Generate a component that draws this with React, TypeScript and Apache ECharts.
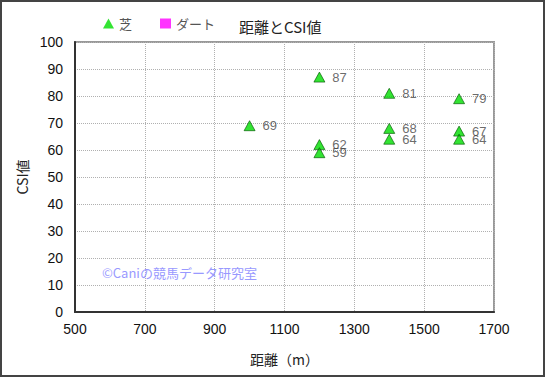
import React, { useEffect, useRef } from "react";
import * as echarts from "echarts";

const turfDistance = [1000, 1200, 1200, 1200, 1400, 1400, 1400, 1600, 1600, 1600];
const turfCSI = [69, 87, 62, 59, 81, 68, 64, 79, 67, 64];
const dirtDistance: number[] = [];
const dirtCSI: number[] = [];
const seriesNames = ["芝", "ダート"];
const chartTitle = "距離とCSI値";
const xName = "距離（m）";
const yName = "CSI値";
const watermark = "©Caniの競馬データ研究室";

export default function App() {
  const ref = useRef<HTMLDivElement>(null);
  useEffect(() => {
    if (!ref.current) return;
    const chart = echarts.init(ref.current, undefined, { renderer: "svg" });
    const font = "'Noto Sans CJK JP', 'Liberation Sans', sans-serif";
    const numFont = "'Liberation Sans', Arial, sans-serif";
    chart.setOption({
      animation: false,
      backgroundColor: "#ffffff",
      textStyle: { fontFamily: font },
      title: {
        text: chartTitle,
        left: 234,
        top: 14,
        textStyle: { fontSize: 15, fontWeight: "normal", color: "#222", fontFamily: font },
      },
      legend: {
        left: 98,
        top: 12,
        itemWidth: 11,
        itemHeight: 10,
        itemGap: 28,
        textStyle: { fontSize: 13, color: "#555", fontFamily: font },
        data: [
          { name: seriesNames[0], icon: "triangle", itemStyle: { color: "#00dd00", borderWidth: 0 } },
          { name: seriesNames[1], icon: "rect" },
        ],
      },
      grid: { left: 75, right: 51, top: 42, bottom: 65, show: true, borderColor: "#999", borderWidth: 2, backgroundColor: "#fff" },
      xAxis: {
        type: "value",
        min: 500,
        max: 1700,
        interval: 200,
        name: xName,
        nameLocation: "middle",
        nameGap: 40,
        nameTextStyle: { fontSize: 14, color: "#222", fontFamily: font },
        axisLine: { lineStyle: { color: "#333", width: 2 } },
        axisTick: { show: false },
        axisLabel: { fontSize: 14, color: "#111", margin: 10, fontFamily: numFont, formatter: (v: number) => String(v) },
        splitLine: { lineStyle: { type: "dotted", color: "#b0b0b0" } },
      },
      yAxis: {
        type: "value",
        min: 0,
        max: 100,
        interval: 10,
        name: yName,
        nameLocation: "middle",
        nameGap: 43,
        nameTextStyle: { fontSize: 14, color: "#222", fontFamily: font },
        axisLine: { show: true, lineStyle: { color: "#333", width: 2 } },
        axisTick: { show: false },
        axisLabel: { fontSize: 14, color: "#111", margin: 12, fontFamily: numFont },
        splitLine: { lineStyle: { type: "dotted", color: "#b0b0b0" } },
      },
      series: [
        {
          name: seriesNames[0],
          type: "scatter",
          symbol: "triangle",
          symbolSize: [11, 10],
          itemStyle: { color: "#00dd00", borderColor: "#005500", borderWidth: 0.8 },
          label: {
            show: true,
            position: "right",
            distance: 7,
            fontSize: 13,
            color: "#444",
            fontFamily: numFont,
            formatter: (p: any) => String(p.value[1]),
          },
          data: turfDistance.map((d, i) => [d, turfCSI[i]]),
        },
        {
          name: seriesNames[1],
          type: "scatter",
          symbol: "rect",
          symbolSize: 10,
          itemStyle: { color: "#ff00ff" },
          data: dirtDistance.map((d, i) => [d, dirtCSI[i]]),
        },
      ],
      graphic: [
        {
          type: "text",
          left: 102,
          top: 266,
          style: { text: watermark, fill: "#9999ff", fontSize: 13, fontFamily: font },
          z: 10,
        },
        {
          type: "rect",
          shape: { x: 1, y: 1, width: 543, height: 375 },
          style: { fill: "none", stroke: "#444", lineWidth: 2 },
          z: 10,
        },
      ],
    });
    return () => chart.dispose();
  }, []);
  return (
    <div
      ref={ref}
      style={{ position: "absolute", left: 0, top: 0, width: 545, height: 377 }}
    />
  );
}
